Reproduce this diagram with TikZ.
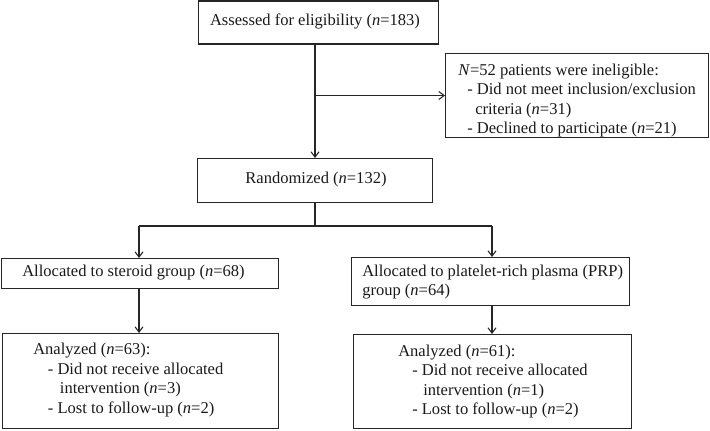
\documentclass[tikz,border=0pt]{standalone}
\usepackage{fontspec}
\setmainfont{Liberation Serif}
\usetikzlibrary{arrows.meta}
\begin{document}
\begin{tikzpicture}[x=0.75pt,y=-0.75pt,
  box/.style={draw=black!85, line width=0.8pt, inner sep=0pt, anchor=north west},
  txt/.style={anchor=west, align=left, inner sep=0pt, text=black!90, font=\fontsize{12.4}{14.6}\selectfont},
  ctxt/.style={anchor=center, inner sep=0pt, text=black!90, font=\fontsize{12.4}{14.6}\selectfont},
  conn/.style={draw=black!85, line width=0.8pt},
  arr/.style={conn, -{Straight Barb[length=4pt,width=6pt]}}]
\useasboundingbox (0,0) rectangle (710,431);
% boxes
\node[box, minimum width=180pt, minimum height=32.25pt] (A) at (198,0.5) {};
\node[box, minimum width=197.25pt, minimum height=63pt] (E) at (445,53) {};
\node[box, minimum width=176.25pt, minimum height=33pt] (R) at (197,158) {};
\node[box, minimum width=207.75pt, minimum height=22.5pt] (L1) at (1,258) {};
\node[box, minimum width=208.5pt, minimum height=36pt] (R1) at (351,257) {};
\node[box, minimum width=207pt, minimum height=71.25pt] (L2) at (2,333) {};
\node[box, minimum width=208.5pt, minimum height=70.5pt] (R2) at (353,334) {};
% texts
\node[ctxt] (tA) at (315,21) {Assessed for eligibility (\textit{n}=183)};
\node[txt] (tE) at (458,100.5) {\textit{N}=52 patients were ineligible:\\
  \hspace{6.75pt}- Did not meet inclusion/exclusion\\
  \hspace{12.75pt}criteria (\textit{n}=31)\\
  \hspace{6.75pt}- Declined to participate (\textit{n}=21)};
\node[ctxt] (tR) at (316,180) {Randomized (\textit{n}=132)};
\node[txt] (tL1) at (22,273) {Allocated to steroid group (\textit{n}=68)};
\node[txt] (tR1) at (362,282) {Allocated to platelet-rich plasma (PRP)\\group (\textit{n}=64)};
\node[txt] (tL2) at (33,380) {Analyzed (\textit{n}=63):\\
  \hspace{11pt}- Did not receive allocated\\
  \hspace{20pt}intervention (\textit{n}=3)\\
  \hspace{11pt}- Lost to follow-up (\textit{n}=2)};
\node[txt] (tR2) at (398,381.5) {Analyzed (\textit{n}=61):\\
  \hspace{10.5pt}- Did not receive allocated\\
  \hspace{18.75pt}intervention (\textit{n}=1)\\
  \hspace{10.5pt}- Lost to follow-up (\textit{n}=2)};
% connectors
\coordinate (t) at (315,0);
\coordinate (s) at (315,226);
\coordinate (cl) at (139,226);
\coordinate (cr) at (492,226);
\draw[arr] (A.south -| t) -- (R.north -| t);
\draw[arr] (E.west -| t) -- (E.west);
\draw[conn] (R.south -| t) -- (s);
\draw[conn] (cl) -- (cr);
\draw[arr] (cl) -- (L1.north -| cl);
\draw[arr] (cr) -- (R1.north -| cr);
\draw[arr] (L1.south -| cl) -- (L2.north -| cl);
\draw[arr] (R1.south -| cr) -- (R2.north -| cr);
\end{tikzpicture}
\end{document}
